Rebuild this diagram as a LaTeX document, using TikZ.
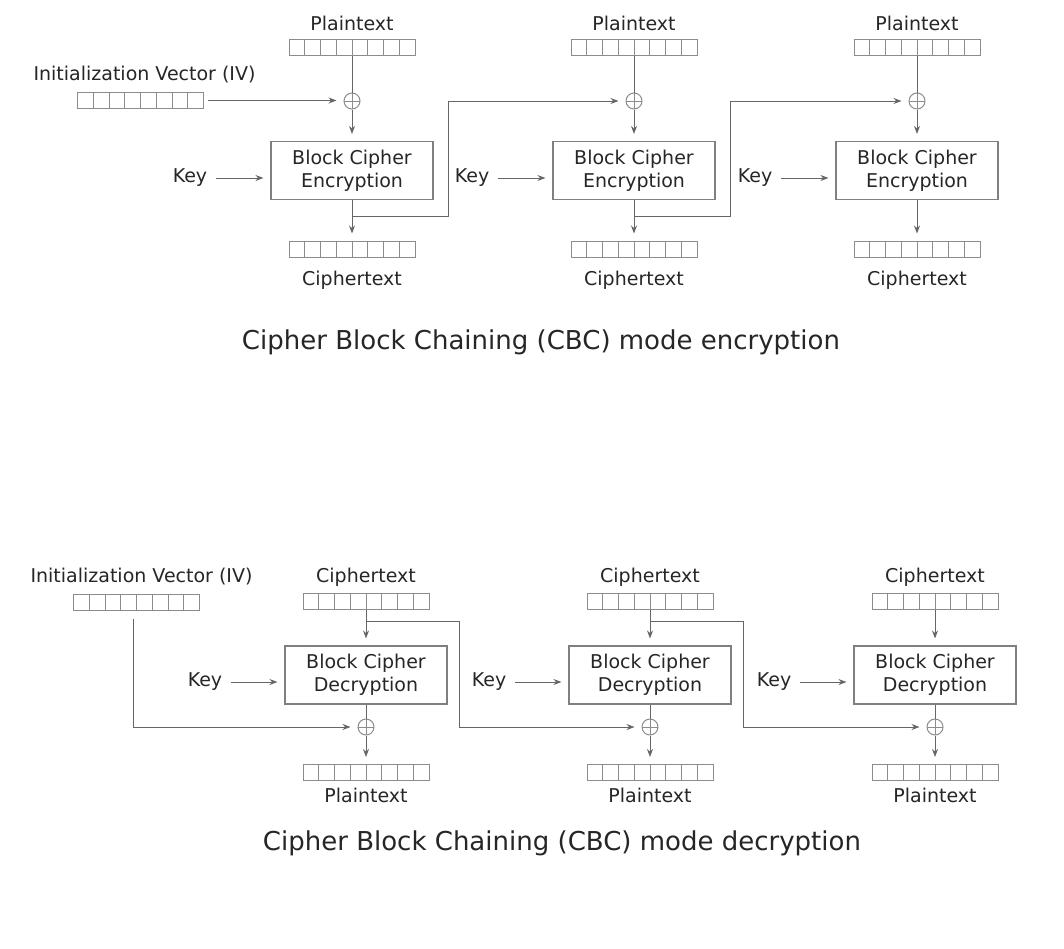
\documentclass[tikz,border=0pt]{standalone}
\usepackage{fontspec}
\setmainfont{DejaVu Sans}
\usetikzlibrary{arrows.meta}
\tikzset{
    lbl/.style={text=black!85, font=\fontsize{19}{22}\selectfont, inner sep=0pt},
    ttl/.style={text=black!85, font=\fontsize{26}{30}\selectfont, inner sep=0pt},
    cipherbox/.style={draw=black!50, line width=1.1pt, minimum width=162pt, minimum height=58pt, align=center, text=black!85, font=\fontsize{19}{23}\selectfont, inner sep=0pt},
    register/.style={draw=black!45, line width=1pt, minimum width=126pt, minimum height=16pt, inner sep=0pt,
        path picture={\foreach \k in {1,...,7} \draw[black!45, line width=1pt] ([xshift=\k*15.75pt]path picture bounding box.south west) -- ([xshift=\k*15.75pt]path picture bounding box.north west);}},
    xorop/.style={draw=black!45, line width=1pt, circle, minimum size=16pt, inner sep=0pt,
        path picture={\draw[black!45, line width=1pt] (path picture bounding box.north) -- (path picture bounding box.south) (path picture bounding box.west) -- (path picture bounding box.east);}},
    wire/.style={draw=black!60, line width=1pt},
    arr/.style={wire, -{Stealth[length=8pt,width=6pt]}, shorten >=7pt},
}
\begin{document}
\begin{tikzpicture}[x=1pt,y=-1pt]
    \fill[white] (0,0) rectangle (1064,948);
    \useasboundingbox (0,0) rectangle (1064,948);
    % encryption
    \node[lbl] (eivl) at (144.5,75) {Initialization Vector (IV)};
    \node[register] (eiv) at (140.5,100.5) {};
    \foreach \x [count=\i] in {352,634,917}{
        \node[lbl] (ept\i) at (\x,23) {Plaintext};
        \node[register] (eptr\i) at (\x,47) {};
        \node[xorop] (ex\i) at (\x,101) {};
        \node[cipherbox] (enc\i) at (\x,170.5) {Block Cipher\\Encryption};
        \node[lbl] (ek\i) at (\x-162,178) {Key};
        \node[register] (ectr\i) at (\x,249) {};
        \node[lbl] (ect\i) at (\x,280) {Ciphertext};
        \coordinate (et\i) at (\x,216);
        \draw[wire] (eptr\i) -- (ex\i);
        \draw[arr] (ex\i) -- (enc\i);
        \draw[arr] (enc\i) -- (ectr\i);
        \draw[arr, shorten <=9pt] (ek\i.east) -- (ek\i.east -| enc\i.west);
    }
    \draw[arr, shorten <=4pt] (eiv.east) -- (eiv.east -| ex1.west);
    \foreach \i/\j in {1/2,2/3}
        \draw[arr] (et\i) -- ++(96,0) |- (ex\j);
    \node[ttl] (ecap) at (541,342) {Cipher Block Chaining (CBC) mode encryption};
    % decryption
    \node[lbl] (divl) at (141.5,577) {Initialization Vector (IV)};
    \node[register] (div) at (136.5,602) {};
    \foreach \x [count=\i] in {366,650,935}{
        \node[lbl] (dct\i) at (\x,577) {Ciphertext};
        \node[register] (dctr\i) at (\x,601) {};
        \node[cipherbox] (dec\i) at (\x,675) {Block Cipher\\Decryption};
        \node[lbl] (dk\i) at (\x-161,682) {Key};
        \node[xorop] (dx\i) at (\x,727) {};
        \node[register] (dptr\i) at (\x,772.5) {};
        \node[lbl] (dpt\i) at (\x,795) {Plaintext};
        \coordinate (dt\i) at (\x,621);
        \draw[arr] (dctr\i) -- (dec\i);
        \draw[wire] (dec\i) -- (dx\i);
        \draw[arr] (dx\i) -- (dptr\i);
        \draw[arr, shorten <=9pt] (dk\i.east) -- (dk\i.east -| dec\i.west);
    }
    \draw[arr, shorten <=8pt] ([xshift=-3.5pt]div.south) |- (dx1);
    \foreach \i/\j in {1/2,2/3}
        \draw[arr] (dt\i) -- ++(93,0) |- (dx\j);
    \node[ttl] (dcap) at (562,843) {Cipher Block Chaining (CBC) mode decryption};
\end{tikzpicture}
\end{document}
